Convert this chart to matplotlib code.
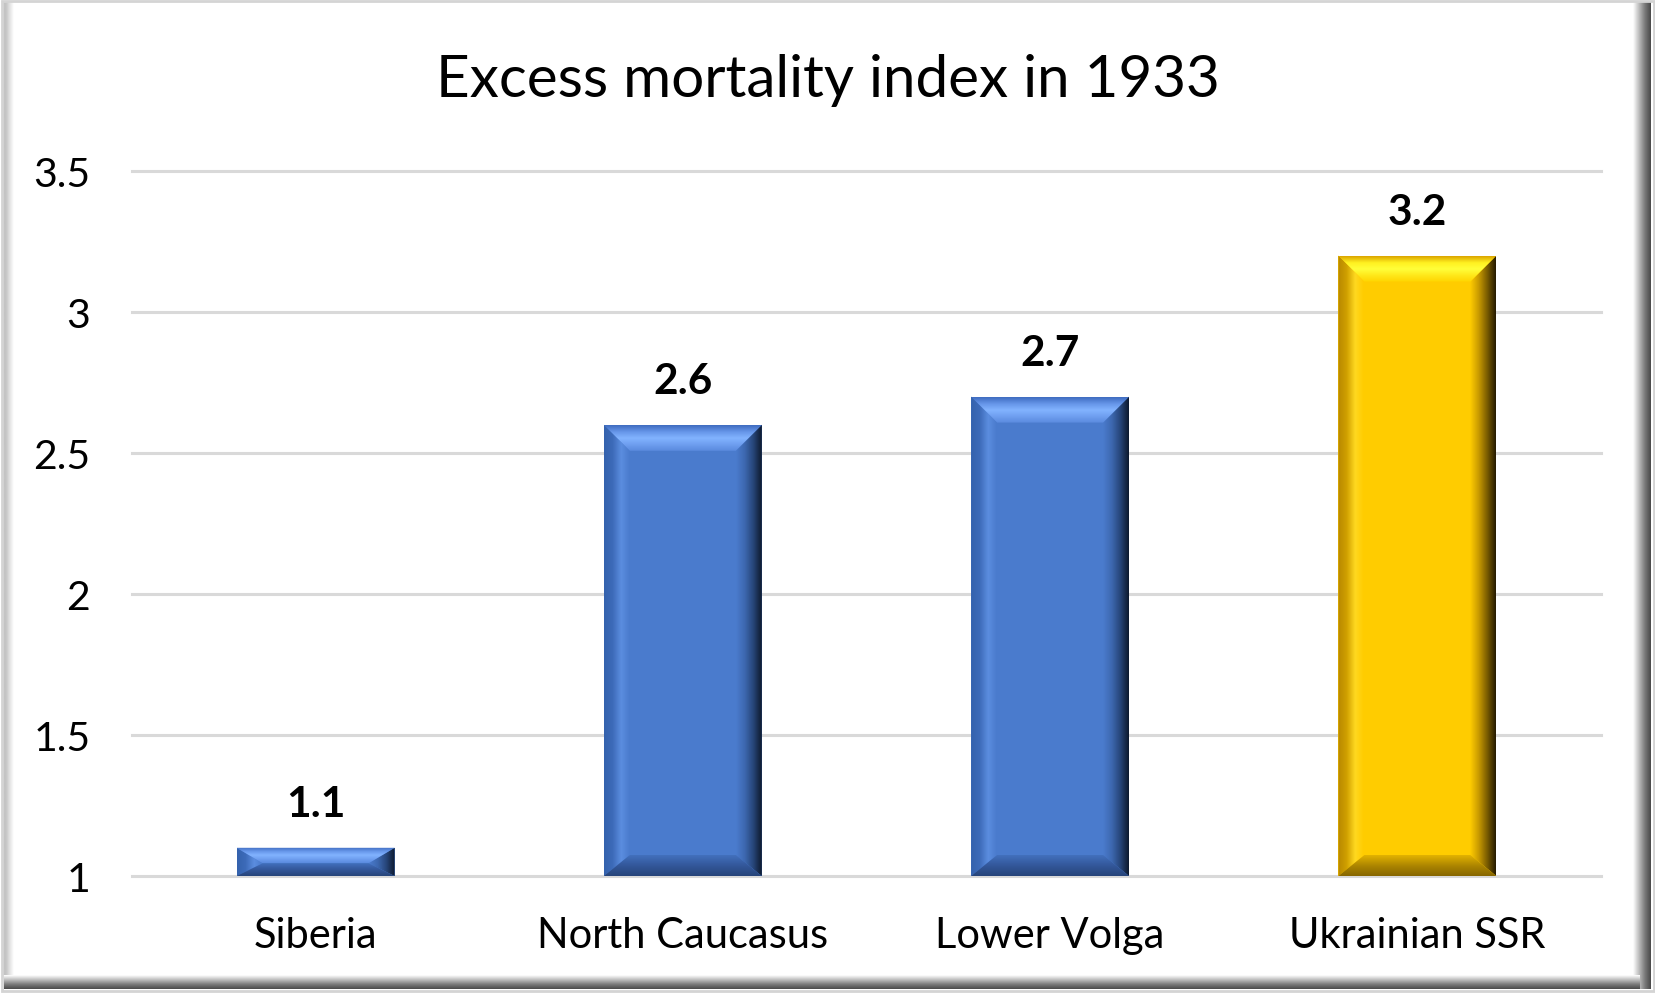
import numpy as np
import matplotlib
matplotlib.use("Agg")
import matplotlib.pyplot as plt
from matplotlib.colors import LinearSegmentedColormap
from matplotlib.patches import Polygon

# data
regions = ["Siberia", "North Caucasus", "Lower Volga", "Ukrainian SSR"]
index_1933 = [1.1, 2.6, 2.7, 3.2]
value_labels = ["1.1", "2.6", "2.7", "3.2"]
y_ticks = [1, 1.5, 2, 2.5, 3, 3.5]
y_tick_labels = ["1", "1.5", "2", "2.5", "3", "3.5"]
title = "Excess mortality index in 1933"

# bar styles: face + bevel gradients
blue = {
    "face": "#4a7bcd",
    "top": ["#5a8ade", "#6f9ff0", "#82b3ff", "#6595e8", "#3f6cc0"],   # inner -> outer
    "left": ["#3462ad", "#3d6bb9", "#5b8ddf", "#4a7bcd"],             # outer -> inner
    "right": ["#4a7bcd", "#3d68b0", "#27467a", "#0e1a2e"],            # inner -> outer
    "bottom": ["#27457a", "#33579a", "#4270bd"],                      # outer -> inner
}
gold = {
    "face": "#ffcc00",
    "top": ["#ffd400", "#ffe81a", "#ffff3a", "#fff020", "#dca600"],
    "left": ["#b88800", "#d0a000", "#ffd820", "#ffcc00"],
    "right": ["#ffcc00", "#c99a00", "#7a5c00", "#261b00"],
    "bottom": ["#876600", "#ad8600", "#e2b200"],
}
bar_styles = [blue, blue, blue, gold]

W, H = 1655, 995
plt.rcParams['font.family'] = ['Lato', 'DejaVu Sans']
fig = plt.figure(figsize=(W / 100, H / 100), dpi=100)

# outer frame with shadow
bg = fig.add_axes([0, 0, 1, 1])
bg.set_xlim(0, W)
bg.set_ylim(H, 0)
bg.axis('off')
bg.add_patch(plt.Rectangle((1.5, 1.5), W - 3, H - 4.5, fill=False, edgecolor="#d4d4d4", lw=2))
bg.imshow(np.linspace(0, 1, 50)[None, :], cmap=LinearSegmentedColormap.from_list("r", ["#ffffff", "#bdbdbd", "#7a7a7a", "#4a4a4a"]),
          extent=(1633, 1651, 990, 3), aspect='auto', interpolation='bilinear')
bg.imshow(np.linspace(0, 1, 50)[:, None], cmap=LinearSegmentedColormap.from_list("b", ["#ffffff", "#bdbdbd", "#7a7a7a", "#4a4a4a"]),
          extent=(4, 1640, 976, 990), aspect='auto', origin='lower', interpolation='bilinear')
bg.imshow(np.linspace(0, 1, 50)[None, :], cmap=LinearSegmentedColormap.from_list("l", ["#c4c4c4", "#c4c4c4", "#e4e4e4", "#ffffff"]),
          extent=(2, 14, 976, 3), aspect='auto', interpolation='bilinear')
bg.set_xlim(0, W)
bg.set_ylim(H, 0)

fig.text(0.5, 1 - 97 / H, title, ha='center', va='baseline', fontsize=42, color="#000000")

ax = fig.add_axes([132 / W, (H - 877) / H, 1469 / W, 705 / H])
ax.patch.set_alpha(0)
x = np.arange(len(regions))
heights = [v - 1 for v in index_1933]
bars = ax.bar(x, heights, bottom=1, width=0.43, color=[s["face"] for s in bar_styles], zorder=2)
ax.set_xlim(-0.5, len(regions) - 0.5)
ax.set_ylim(1, 3.5)

ax.set_yticks(y_ticks)
ax.set_yticklabels(y_tick_labels, fontsize=29.5)
ax.set_xticks(x)
ax.set_xticklabels(regions, fontsize=30)
ax.tick_params(axis='both', length=0)
ax.tick_params(axis='y', pad=30)
ax.tick_params(axis='x', pad=29)
for s in ax.spines.values():
    s.set_visible(False)
ax.yaxis.grid(True, color="#d9d9d9", lw=2.2, zorder=0)
ax.set_axisbelow(True)
for gl in ax.get_ygridlines():
    gl.set_clip_on(False)


def grad(ax, verts, extent, colors, horizontal):
    cmap = LinearSegmentedColormap.from_list("g", colors)
    arr = np.linspace(0, 1, 64)
    arr = arr[None, :] if horizontal else arr[:, None]
    clip = Polygon(verts, closed=True, facecolor='none', edgecolor='none', transform=ax.transData)
    ax.add_patch(clip)
    im = ax.imshow(arr, cmap=cmap, extent=extent, aspect='auto', origin='lower',
                   interpolation='bilinear', zorder=3)
    im.set_clip_path(clip)


# bevels, sized in pixels then mapped back to data units
fig.canvas.draw()
px_x = ax.transData.transform((1, 0))[0] - ax.transData.transform((0, 0))[0]
px_y = ax.transData.transform((0, 1))[1] - ax.transData.transform((0, 0))[1]
bevel_px = 26
for b, st in zip(bars, bar_styles):
    x0, y0 = b.get_x(), b.get_y()
    x1, y1 = x0 + b.get_width(), y0 + b.get_height()
    dx = bevel_px / px_x
    dy_top = min(bevel_px / px_y, (y1 - y0) * 0.55)
    dy_bot = min(21 / px_y, (y1 - y0) * 0.45)
    # left
    grad(ax, [(x0, y0), (x0, y1), (x0 + dx, y1 - dy_top), (x0 + dx, y0 + dy_bot)],
         (x0, x0 + dx, y0, y1), st["left"], True)
    # right
    grad(ax, [(x1, y0), (x1, y1), (x1 - dx, y1 - dy_top), (x1 - dx, y0 + dy_bot)],
         (x1 - dx, x1, y0, y1), st["right"], True)
    # top
    grad(ax, [(x0, y1), (x1, y1), (x1 - dx, y1 - dy_top), (x0 + dx, y1 - dy_top)],
         (x0, x1, y1 - dy_top, y1), st["top"], False)
    # bottom
    grad(ax, [(x0, y0), (x1, y0), (x1 - dx, y0 + dy_bot), (x0 + dx, y0 + dy_bot)],
         (x0, x1, y0, y0 + dy_bot), st["bottom"], False)

for xi, v, lab in zip(x, index_1933, value_labels):
    ax.annotate(lab, (xi, v), xytext=(0, 23), textcoords='offset points',
                ha='center', va='baseline', fontsize=30.5, fontweight='bold', color="#000000")

ax.set_xlim(-0.5, len(regions) - 0.5)
ax.set_ylim(1, 3.5)

fig.savefig("out.png", dpi=100)
